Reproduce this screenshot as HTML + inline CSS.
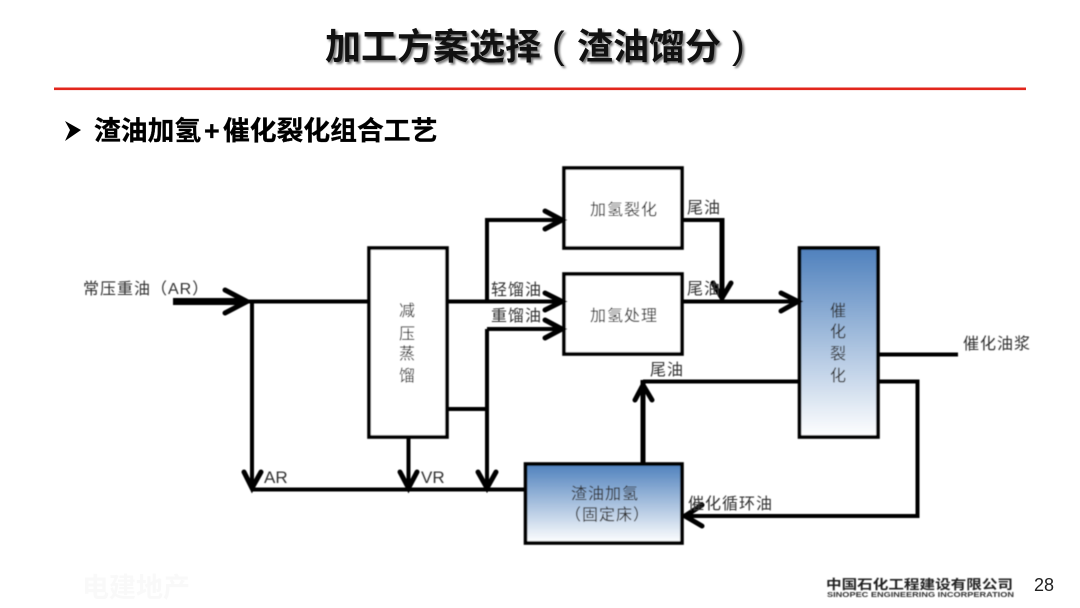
<!DOCTYPE html>
<html><head><meta charset="utf-8">
<style>
html,body{margin:0;padding:0;background:#fff;width:1080px;height:608px;overflow:hidden}
svg{display:block}
text{font-family:"Liberation Sans","Noto Sans CJK SC",sans-serif}
.t{font-weight:700;font-size:36px;fill:#111;text-shadow:2px 2px 2px #777}
.s{font-weight:700;font-size:26.800px;fill:#000;stroke:#000;stroke-width:.3}
.l{font-size:16px;fill:#333;letter-spacing:1px}
.v{font-size:16px;fill:#333;text-anchor:middle}
.e{font-size:17px;fill:#333}
.w{fill:none;stroke:#000;stroke-width:4;stroke-linejoin:miter}
.k{fill:none;stroke:#000;stroke-width:5;stroke-linejoin:miter}
.a{fill:none;stroke:#000;stroke-width:5;stroke-linecap:round;stroke-linejoin:miter}
.b{stroke:#000;stroke-width:3.600}
</style></head><body>
<svg width="1080" height="608" viewBox="0 0 1080 608" xmlns="http://www.w3.org/2000/svg">
<defs>
<linearGradient id="g" x1="0" y1="0" x2="0" y2="1"><stop offset="0" stop-color="#4f81bd"/><stop offset="1" stop-color="#fff"/></linearGradient>
<filter id="f" x="-5%" y="-5%" width="110%" height="110%"><feGaussianBlur stdDeviation="0.45"/></filter>
</defs>

<text class="t" x="325" y="59">加工方案选择</text>
<text class="t" x="552" y="58" style="font-size:38px;font-weight:400">(</text>
<text class="t" x="577" y="59">渣油馏分</text>
<text class="t" x="732" y="58" style="font-size:38px;font-weight:400">)</text>
<rect x="54" y="87.500" width="972" height="2.600" fill="#e2261c"/>

<polygon points="65,121 81,130 65,141 70,130" fill="#000"/>
<text class="s" x="94" y="140">渣油加氢</text>
<text class="s" x="204" y="140">+</text>
<text class="s" x="223" y="140">催化裂化组合工艺</text>

<g filter="url(#f)">
<!-- boxes -->
<rect class="b" x="369" y="248" width="78" height="189" fill="#fff"/>
<rect class="b" x="564" y="168" width="118" height="80" fill="#fff"/>
<rect class="b" x="564" y="274" width="118" height="80" fill="#fff"/>
<rect class="b" x="799.500" y="248" width="78.500" height="189" fill="url(#g)"/>
<rect class="b" x="525.500" y="464" width="156.500" height="79" fill="url(#g)"/>

<!-- lines -->
<path class="w" d="M248 301.500H369"/>
<path class="w" d="M252 301.500V489.500"/>
<path class="w" d="M252 489.500H525"/>
<path class="w" d="M408.500 437V489"/>
<path class="w" d="M447 409H487M487 329V489"/>
<path class="w" d="M487 329H561"/>
<path class="w" d="M487 301V220H561"/>
<path class="w" d="M447 301.500H561"/>
<path class="w" d="M682 220H722"/>
<path class="k" d="M722 218V299"/>
<path class="w" d="M682 301.500H797"/>
<path class="w" d="M878 354.500H958"/>
<path class="w" d="M799 381.500H643"/>
<path class="k" d="M643 380V464"/>
<path class="w" d="M878 381.500H917.500V516H685"/>
<path d="M173 301.500H246" stroke="#000" stroke-width="7" fill="none"/>

<!-- arrowheads -->
<path class="a" d="M225 290L247 301.500L225 313" stroke-width="6"/>
<path class="a" d="M244 472L252 488L261 472"/>
<path class="a" d="M400 472L408.500 488L417 472"/>
<path class="a" d="M478 472L487 488L496 472"/>
<path class="a" d="M545 211L562 220L545 229"/>
<path class="a" d="M545 293L562 301.500L545 310"/>
<path class="a" d="M545 320L562 329L545 338"/>
<path class="a" d="M713 283L722 298L731 283"/>
<path class="a" d="M781 293L798 301.500L781 311"/>
<path class="a" d="M635 400L643 385L652 400"/>
<path class="a" d="M702 505L685 516L702 526"/>

<!-- labels -->
<text class="l" x="83" y="294">常压重油（AR）</text>
<text class="l" x="687" y="213">尾油</text>
<text class="l" x="687" y="294">尾油</text>
<text class="l" x="491" y="295">轻馏油</text>
<text class="l" x="491" y="321">重馏油</text>
<text class="l" x="650" y="375">尾油</text>
<text class="e" x="264" y="483">AR</text>
<text class="e" x="421" y="483">VR</text>
<text class="l" x="688" y="509">催化循环油</text>
<text class="l" x="963" y="349">催化油浆</text>
<text class="l" x="590" y="215">加氢裂化</text>
<text class="l" x="590" y="321">加氢处理</text>
<text class="l" x="571" y="499">渣油加氢</text>
<text class="l" x="565" y="520">（固定床）</text>
<text class="v" x="407" y="316">减</text>
<text class="v" x="407" y="339">压</text>
<text class="v" x="407" y="359">蒸</text>
<text class="v" x="407" y="381">馏</text>
<text class="v" x="838" y="316">催</text>
<text class="v" x="838" y="337">化</text>
<text class="v" x="838" y="359">裂</text>
<text class="v" x="838" y="381">化</text>

<!-- footer -->
<text x="826" y="589" textLength="187" lengthAdjust="spacingAndGlyphs" style="font-size:13px;font-weight:700;fill:#222">中国石化工程建设有限公司</text>
<text x="827" y="597" textLength="187" lengthAdjust="spacingAndGlyphs" style="font-size:7px;font-weight:700;fill:#333">SINOPEC ENGINEERING INCORPERATION</text>
</g>
<text x="1034" y="591" style="font-size:18px;fill:#222">28</text>
<text x="82" y="597" style="font-size:27px;font-weight:700;fill:#f9f9f9">电建地产</text>
</svg>
</body></html>
